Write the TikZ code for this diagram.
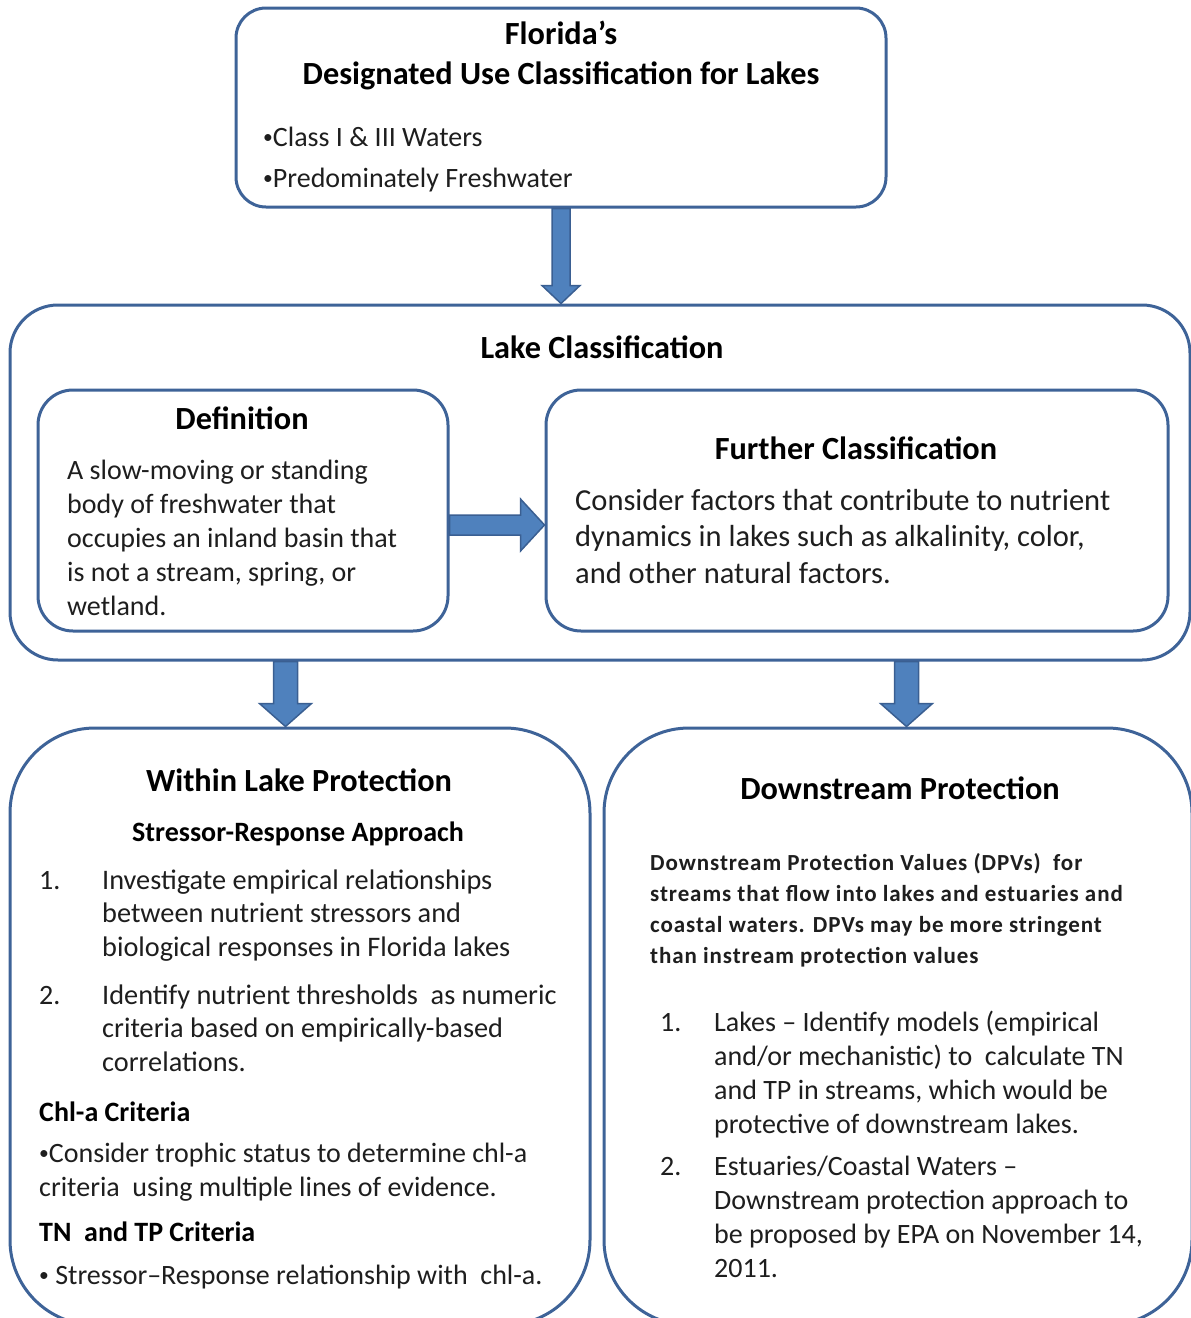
\documentclass[tikz,border=0pt]{standalone}
\usepackage{fontspec}
\usepackage{graphicx}
\setmainfont{Carlito}
\usetikzlibrary{calc}
\definecolor{boxline}{HTML}{3E6398}
\definecolor{arrfill}{HTML}{4F81BD}
\definecolor{arrline}{HTML}{3A5F92}
\definecolor{txt}{HTML}{1E1E1E}
\newcommand\smbullet{\raisebox{0.08em}{\scalebox{0.7}{•}}}
\tikzset{
  box/.style={draw=boxline, line width=3pt, rectangle, fill=white, inner sep=0pt},
  blockarrow/.style={fill=arrfill, draw=arrline, line width=1.5pt, line join=miter},
  ttl/.style={font=\bfseries\fontsize{32.3}{38}\selectfont, text=black, inner sep=0pt, anchor=base},
  sub/.style={font=\bfseries\fontsize{28}{34}\selectfont, text=black, inner sep=0pt, anchor=base west},
  body/.style={font=\fontsize{28}{34}\selectfont, text=txt, inner sep=0pt, align=left, anchor=base west},
}
\begin{document}
\begin{tikzpicture}[x=1pt,y=-1pt]
\useasboundingbox (0,0) rectangle (1191,1318);
\clip (0,0) rectangle (1191,1318);
% boxes
\node[box, rounded corners=30pt, minimum width=650pt, minimum height=199pt] (top) at (561,107.5) {};
\node[box, rounded corners=48pt, minimum width=1180pt, minimum height=355pt] (lake) at (600,482.5) {};
\node[box, rounded corners=35pt, minimum width=410pt, minimum height=241pt] (def) at (243,510.5) {};
\node[box, rounded corners=35pt, minimum width=622pt, minimum height=241pt] (further) at (857,510.5) {};
\node[box, rounded corners=85pt, minimum width=580pt, minimum height=597pt] (within) at (300,1026.5) {};
\node[box, rounded corners=85pt, minimum width=588pt, minimum height=597pt] (down) at (898,1026.5) {};
% arrows
\coordinate (a1s) at (top.south);
\coordinate (a1e) at (top.south |- lake.north);
\draw[blockarrow] ($(a1s)+(-9,0)$) -- ($(a1e)+(-9,-18)$) -- ($(a1e)+(-19,-18)$) -- (a1e) -- ($(a1e)+(19,-18)$) -- ($(a1e)+(9,-18)$) -- ($(a1s)+(9,0)$) -- cycle;
\coordinate (a2s) at ($(def.east)+(0,14.5)$);
\coordinate (a2e) at ($(further.west)+(0,14.5)$);
\draw[blockarrow] ($(a2s)+(0,-10)$) -- ($(a2e)+(-24,-10)$) -- ($(a2e)+(-24,-26)$) -- (a2e) -- ($(a2e)+(-24,26)$) -- ($(a2e)+(-24,10)$) -- ($(a2s)+(0,10)$) -- cycle;
\coordinate (a3e) at ($(within.north)+(-14.5,0)$);
\coordinate (a3s) at (a3e |- lake.south);
\draw[blockarrow] ($(a3s)+(-12,0)$) -- ($(a3e)+(-12,-23)$) -- ($(a3e)+(-26,-23)$) -- (a3e) -- ($(a3e)+(26,-23)$) -- ($(a3e)+(12,-23)$) -- ($(a3s)+(12,0)$) -- cycle;
\coordinate (a4e) at ($(down.north)+(8.5,0)$);
\coordinate (a4s) at (a4e |- lake.south);
\draw[blockarrow] ($(a4s)+(-12,0)$) -- ($(a4e)+(-12,-23)$) -- ($(a4e)+(-26,-23)$) -- (a4e) -- ($(a4e)+(26,-23)$) -- ($(a4e)+(12,-23)$) -- ($(a4s)+(12,0)$) -- cycle;
% top text (multi-line nodes: base = last line)
\node[ttl] (t1) at (561,44) {Florida’s};
\node[ttl] (t2) at (561,84) {Designated Use Classification for Lakes};
\node[body, font=\fontsize{28}{41}\selectfont] (t3) at (263,187) {\smbullet Class I \& III Waters\\\smbullet Predominately Freshwater};
% lake classification
\node[ttl] (lc) at (602,358) {Lake Classification};
\node[ttl] (dt) at (242,429) {Definition};
\node[body] (db) at (67,615) {A slow-moving or standing\\body of freshwater that\\occupies an inland basin that\\is not a stream, spring, or\\wetland.};
\node[ttl] (ft) at (856,459) {Further Classification};
\node[body, font=\fontsize{30.5}{36.5}\selectfont] (fb) at (575,583) {Consider factors that contribute to nutrient\\dynamics in lakes such as alkalinity, color,\\and other natural factors.};
% within lake
\node[ttl] (wt) at (299,791) {Within Lake Protection};
\node[sub, anchor=base] (ws) at (298,841) {Stressor-Response Approach};
\node[body] (wn1) at (39,889) {1.};
\node[body, font=\fontsize{28.3}{33.5}\selectfont] (wi1) at (102,956) {Investigate empirical relationships\\between nutrient stressors and\\biological responses in Florida lakes};
\node[body] (wn2) at (39,1004) {2.};
\node[body, font=\fontsize{28.3}{33.5}\selectfont] (wi2) at (102,1071) {Identify nutrient thresholds\ \ as numeric\\criteria based on empirically-based\\correlations.};
\node[sub] (wc) at (39,1121) {Chl-a Criteria};
\node[body] (wcb) at (39,1196) {\smbullet Consider trophic status to determine chl-a\\criteria\ \ using multiple lines of evidence.};
\node[sub] (wtn) at (39,1241) {TN\ \ and TP Criteria};
\node[body] (wtb) at (39,1284) {\smbullet\ Stressor–Response relationship with\ \ chl-a.};
% downstream
\node[ttl] (dst) at (900,799) {Downstream Protection};
\node[body, font=\bfseries\fontsize{23}{31}\selectfont\addfontfeature{LetterSpace=4}] (dsp) at (650,963) {Downstream Protection Values (DPVs)\ \ for\\streams that flow into lakes and estuaries and\\coastal waters. DPVs may be more stringent\\than instream protection values};
\node[body] (dn1) at (660,1031) {1.};
\node[body] (di1) at (714,1133) {Lakes – Identify models (empirical\\and/or mechanistic) to\ \ calculate TN\\and TP in streams, which would be\\protective of downstream lakes.};
\node[body] (dn2) at (660,1175) {2.};
\node[body] (di2) at (714,1277) {Estuaries/Coastal Waters –\\Downstream protection approach to\\be proposed by EPA on November 14,\\2011.};
\end{tikzpicture}
\end{document}
